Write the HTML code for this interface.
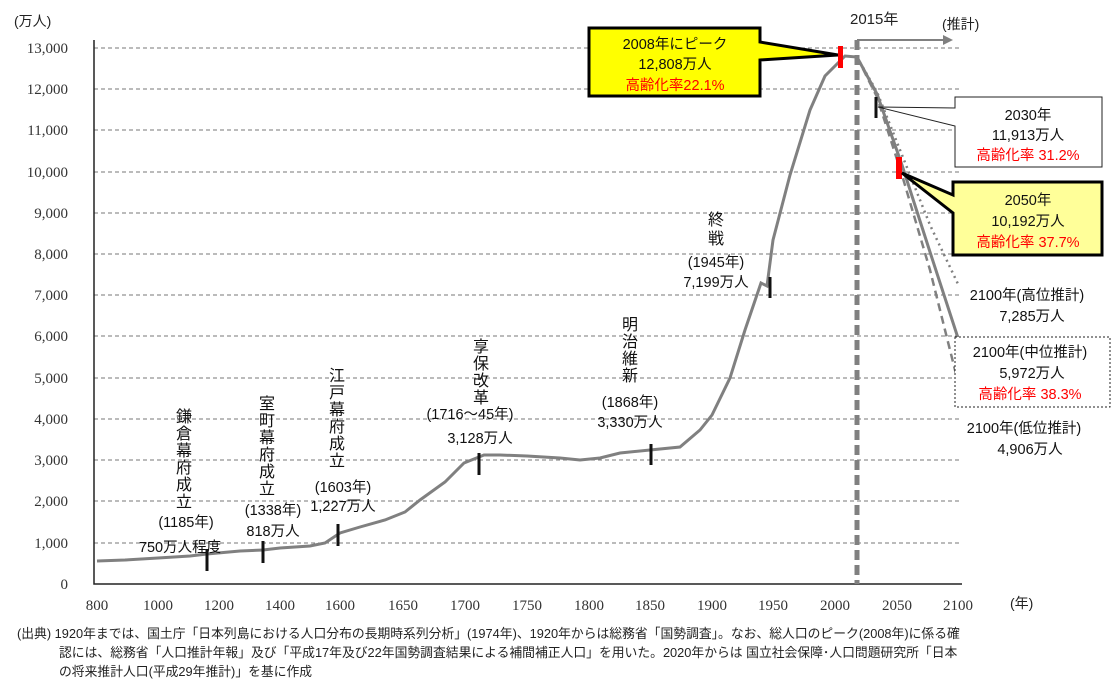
<!DOCTYPE html>
<html><head><meta charset="utf-8"><style>
body{margin:0;background:#fff;}
svg{display:block;font-family:"Liberation Sans","Noto Sans CJK JP",sans-serif;}
.yl{font-family:"Liberation Serif","Noto Serif CJK SC",serif;font-size:15px;fill:#333;text-anchor:end}
.xl{font-family:"Liberation Serif","Noto Serif CJK SC",serif;font-size:15px;fill:#333;text-anchor:middle}
.t{font-size:14.5px;fill:#111;text-anchor:middle}
.r{fill:#ff0000}
.v{font-size:16px;fill:#111;text-anchor:middle}
.fn{font-size:12.8px;fill:#222}
</style></head><body>
<svg width="1120" height="700" viewBox="0 0 1120 700">
<g stroke="#777" stroke-dasharray="4,3" stroke-width="1">
<line x1="94" y1="48" x2="962" y2="48"/><line x1="94" y1="89" x2="962" y2="89"/><line x1="94" y1="130" x2="962" y2="130"/><line x1="94" y1="172" x2="962" y2="172"/><line x1="94" y1="213" x2="962" y2="213"/><line x1="94" y1="254" x2="962" y2="254"/><line x1="94" y1="295" x2="962" y2="295"/><line x1="94" y1="336" x2="962" y2="336"/><line x1="94" y1="378" x2="962" y2="378"/><line x1="94" y1="419" x2="962" y2="419"/><line x1="94" y1="460" x2="962" y2="460"/><line x1="94" y1="501" x2="962" y2="501"/><line x1="94" y1="543" x2="962" y2="543"/>
</g>
<path d="M94 40V584H962" fill="none" stroke="#222" stroke-width="1.5"/>
<g>
<text class="yl" x="68" y="53">13,000</text><text class="yl" x="68" y="94">12,000</text><text class="yl" x="68" y="135">11,000</text><text class="yl" x="68" y="177">10,000</text><text class="yl" x="68" y="218">9,000</text><text class="yl" x="68" y="259">8,000</text><text class="yl" x="68" y="300">7,000</text><text class="yl" x="68" y="341">6,000</text><text class="yl" x="68" y="383">5,000</text><text class="yl" x="68" y="424">4,000</text><text class="yl" x="68" y="465">3,000</text><text class="yl" x="68" y="506">2,000</text><text class="yl" x="68" y="548">1,000</text><text class="yl" x="68" y="589">0</text>
</g>
<text x="14" y="26" font-size="14" fill="#222">(万人)</text>
<g>
<text class="xl" x="97" y="610">800</text><text class="xl" x="158" y="610">1000</text><text class="xl" x="219" y="610">1200</text><text class="xl" x="280" y="610">1400</text><text class="xl" x="340" y="610">1600</text><text class="xl" x="403" y="610">1650</text><text class="xl" x="465" y="610">1700</text><text class="xl" x="527" y="610">1750</text><text class="xl" x="589" y="610">1800</text><text class="xl" x="650" y="610">1850</text><text class="xl" x="712" y="610">1900</text><text class="xl" x="773" y="610">1950</text><text class="xl" x="835" y="610">2000</text><text class="xl" x="897" y="610">2050</text><text class="xl" x="958" y="610">2100</text>
</g>
<text x="1010" y="608" font-size="14" fill="#222">(年)</text>
<path d="M97 561 L125 560 L158 558 L190 556 L207 554 L240 551 L263 550 L280 548 L310 546 L325 543 L340 533 L360 527 L385 520 L405 512 L420 500 L445 482 L464 463 L484 455 L500 455 L527 456 L560 458 L580 460 L600 458 L620 453 L650 450 L680 447 L700 430 L712 415 L730 378 L745 330 L761 283 L767 286 L773 240 L790 175 L810 110 L825 76 L845 56 L857 57 L877 94 L902 165 L930 252 L958 338" fill="none" stroke="#808080" stroke-width="3"/>
<path d="M857 57 L877 97 L902 175 L930 270 L958 382" fill="none" stroke="#808080" stroke-width="2.5" stroke-dasharray="8,5"/>
<path d="M857 57 L877 92 L902 155 L930 225 L958 284" fill="none" stroke="#808080" stroke-width="2.5" stroke-dasharray="2,4"/>
<line x1="857" y1="40" x2="857" y2="584" stroke="#808080" stroke-width="5" stroke-dasharray="10,5"/>
<path d="M857 40H945" fill="none" stroke="#808080" stroke-width="2"/>
<path d="M943 35L953 40L943 45Z" fill="#808080"/>
<text x="850" y="24" font-size="15" fill="#222">2015年</text>
<text x="942" y="29" font-size="14" fill="#222">(推計)</text>
<g stroke="#111" stroke-width="3">
<line x1="207" y1="549" x2="207" y2="571"/><line x1="263" y1="541" x2="263" y2="563"/><line x1="338" y1="524" x2="338" y2="546"/><line x1="479" y1="453" x2="479" y2="475"/><line x1="651" y1="444" x2="651" y2="465"/><line x1="770" y1="277" x2="770" y2="298"/><line x1="876" y1="97" x2="876" y2="118"/>
</g>
<g class="v">
<text x="184" y="422">鎌</text><text x="184" y="439">倉</text><text x="184" y="456">幕</text><text x="184" y="473">府</text><text x="184" y="490">成</text><text x="184" y="507">立</text>
<text x="267" y="409">室</text><text x="267" y="426">町</text><text x="267" y="443">幕</text><text x="267" y="460">府</text><text x="267" y="477">成</text><text x="267" y="494">立</text>
<text x="337" y="381">江</text><text x="337" y="398">戸</text><text x="337" y="415">幕</text><text x="337" y="432">府</text><text x="337" y="449">成</text><text x="337" y="466">立</text>
<text x="481" y="352">享</text><text x="481" y="369">保</text><text x="481" y="386">改</text><text x="481" y="403">革</text>
<text x="630" y="330">明</text><text x="630" y="347">治</text><text x="630" y="364">維</text><text x="630" y="381">新</text>
<text x="716" y="225">終</text><text x="716" y="244">戦</text>
</g>
<text class="t" x="186" y="527">(1185年)</text><text class="t" x="180" y="552">750万人程度</text>
<text class="t" x="273" y="515">(1338年)</text><text class="t" x="273" y="536">818万人</text>
<text class="t" x="343" y="492">(1603年)</text><text class="t" x="343" y="511">1,227万人</text>
<text class="t" x="470" y="419">(1716～45年)</text><text class="t" x="480" y="443">3,128万人</text>
<text class="t" x="630" y="407">(1868年)</text><text class="t" x="630" y="427">3,330万人</text>
<text class="t" x="716" y="267">(1945年)</text><text class="t" x="716" y="287">7,199万人</text>
<path d="M589 28H760V42L838 55L760 60V96H589Z" fill="#ffff00" stroke="#000" stroke-width="3" stroke-linejoin="miter"/>
<rect x="838" y="46" width="5" height="22" fill="#ff0000"/>
<rect x="896" y="157" width="6" height="22" fill="#ff0000"/>
<text class="t" x="675" y="49">2008年にピーク</text><text class="t" x="675" y="69">12,808万人</text><text class="t r" x="675" y="90">高齢化率22.1%</text>
<path d="M955 97H1102V167H955V126L878 107L955 108Z" fill="#fff" stroke="#222" stroke-width="1"/>
<text class="t" x="1028" y="120">2030年</text><text class="t" x="1028" y="140">11,913万人</text><text class="t r" x="1028" y="160">高齢化率 31.2%</text>
<path d="M953 182H1102V255H953V213L902 173L953 195Z" fill="#ffff99" stroke="#000" stroke-width="3"/>
<text class="t" x="1028" y="205">2050年</text><text class="t" x="1028" y="226">10,192万人</text><text class="t r" x="1028" y="247">高齢化率 37.7%</text>
<text class="t" x="1027" y="300">2100年(高位推計)</text><text class="t" x="1032" y="321">7,285万人</text>
<rect x="955" y="337" width="155" height="70" fill="#fff" stroke="#222" stroke-width="1" stroke-dasharray="2,2"/>
<text class="t" x="1030" y="357">2100年(中位推計)</text><text class="t" x="1032" y="378">5,972万人</text><text class="t r" x="1030" y="399">高齢化率 38.3%</text>
<text class="t" x="1024" y="433">2100年(低位推計)</text><text class="t" x="1030" y="454">4,906万人</text>
<text class="fn" x="17" y="638">(出典) 1920年までは、国土庁「日本列島における人口分布の長期時系列分析」(1974年)、1920年からは総務省「国勢調査」。なお、総人口のピーク(2008年)に係る確</text>
<text class="fn" x="59" y="657">認には、総務省「人口推計年報」及び「平成17年及び22年国勢調査結果による補間補正人口」を用いた。2020年からは 国立社会保障･人口問題研究所「日本</text>
<text class="fn" x="59" y="676">の将来推計人口(平成29年推計)」を基に作成</text>
</svg>
</body></html>
